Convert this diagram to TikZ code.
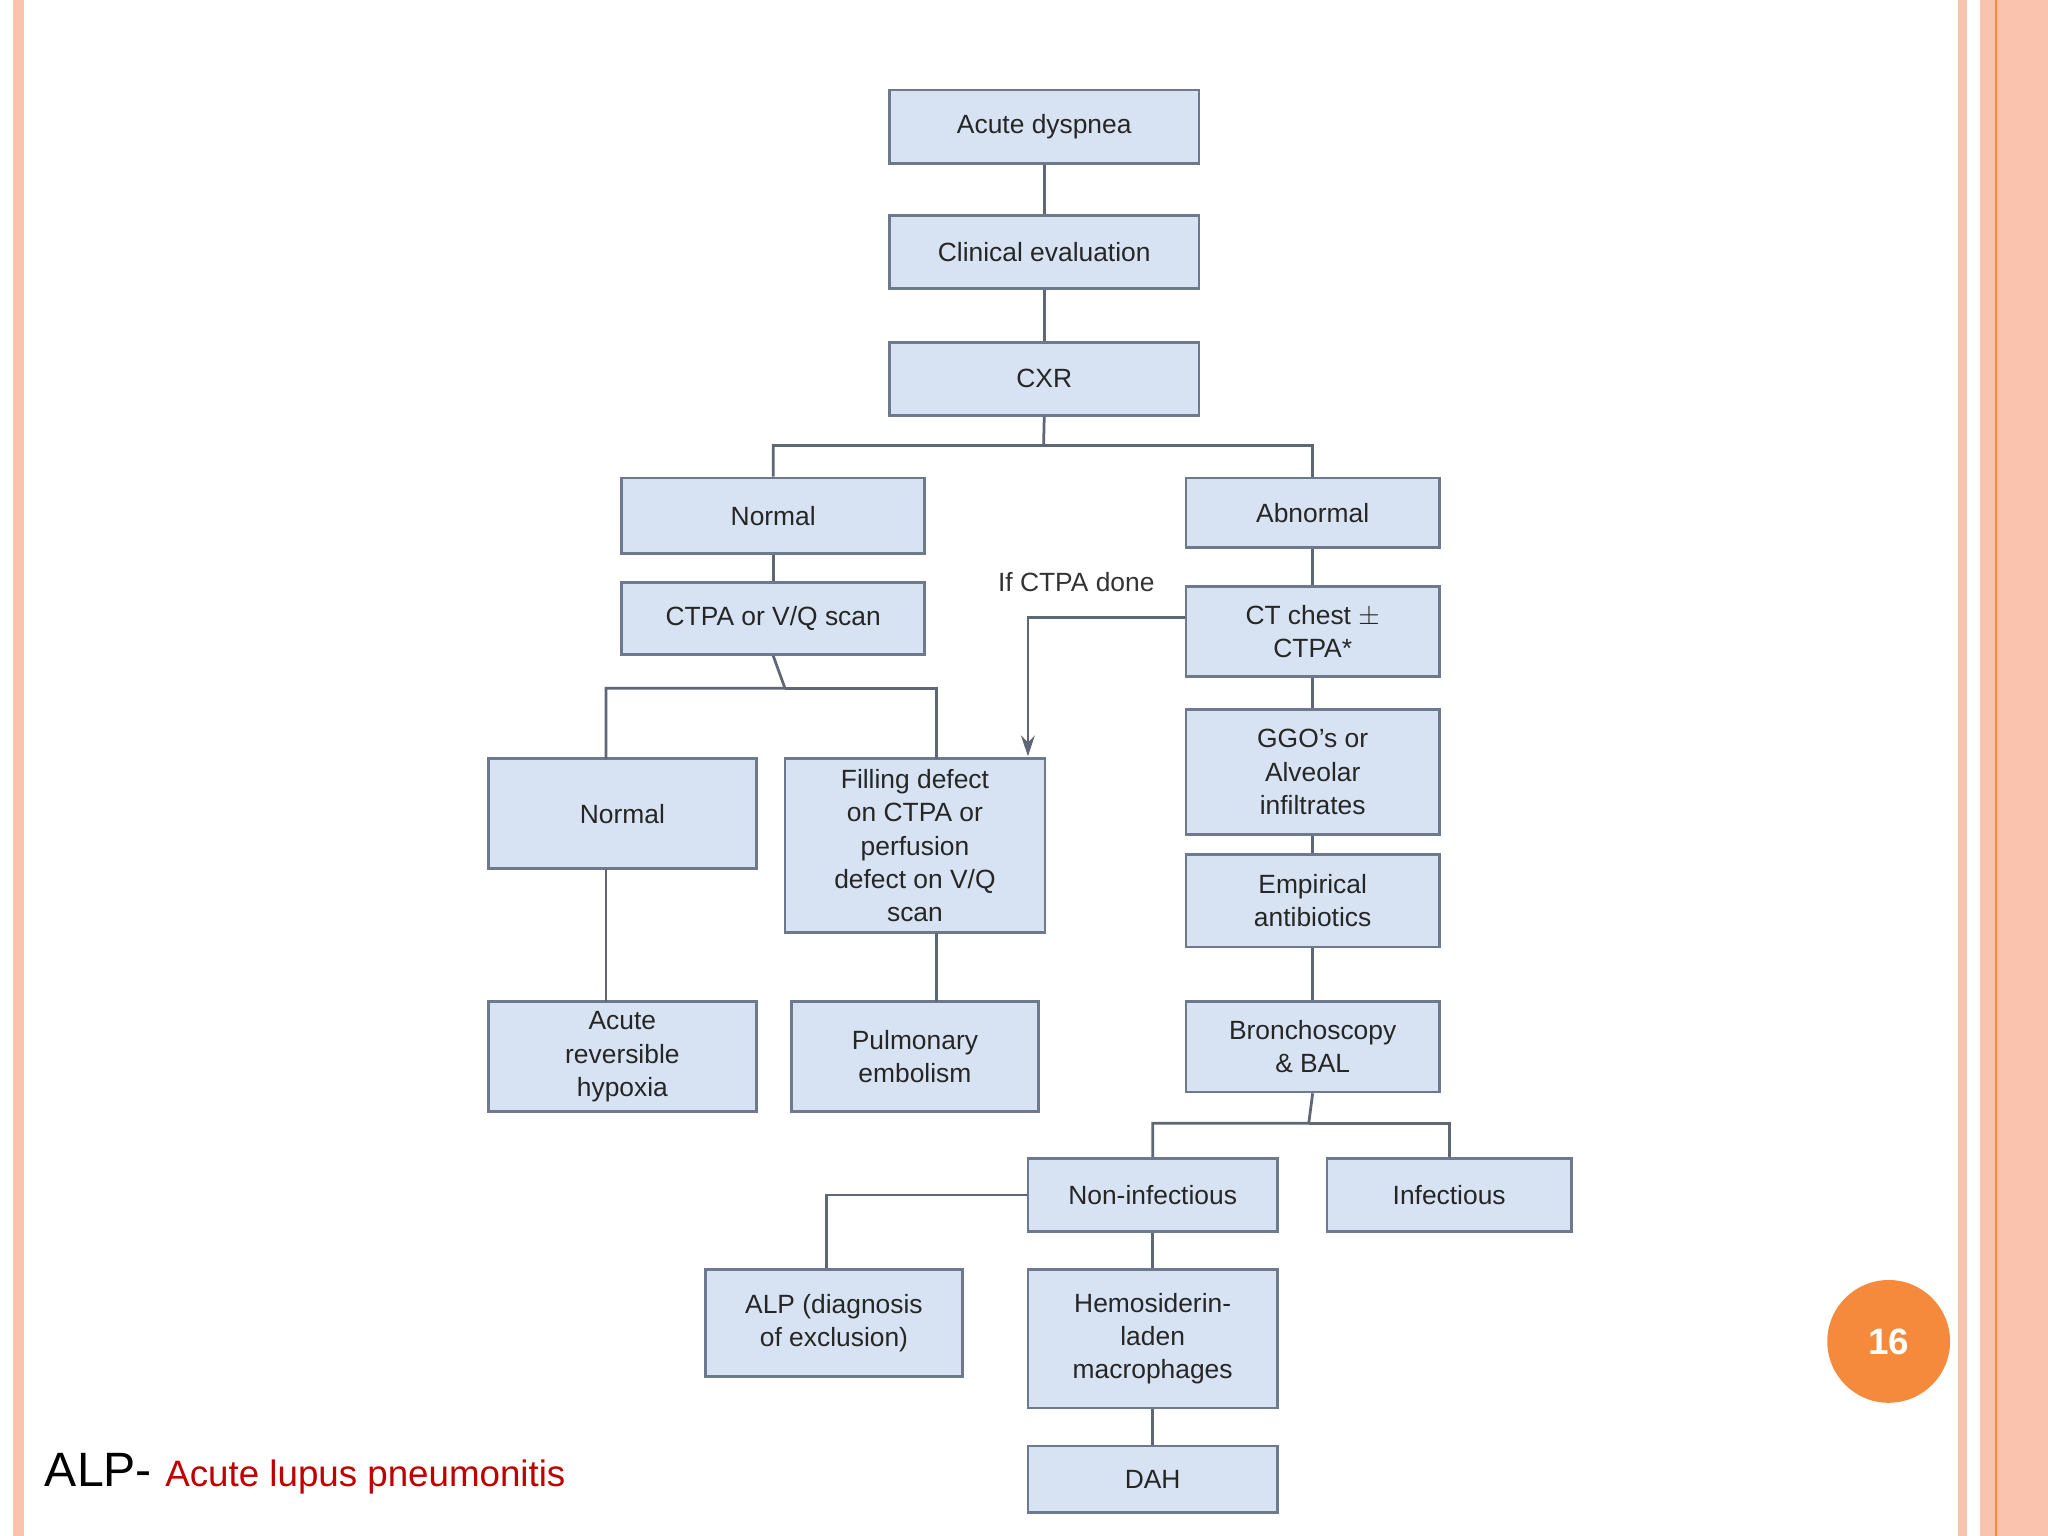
\documentclass[tikz,border=0pt]{standalone}
\usepackage{fontspec}
\setmainfont{Liberation Sans}
\usetikzlibrary{arrows.meta}
\definecolor{bfill}{HTML}{D7E3F3}
\definecolor{bline}{HTML}{6D7A8E}
\definecolor{lnk}{HTML}{5F6775}
\definecolor{stripe}{HTML}{F9C3AE}
\definecolor{orng}{HTML}{F58A3C}
\definecolor{dred}{HTML}{C00000}
\tikzset{box/.style={draw=bline,line width=1.2pt,fill=bfill,align=center,inner sep=0pt,font=\fontsize{11.5}{14.5}\selectfont,text=black!85},
 lk/.style={draw=lnk,line width=1.2pt}}
\newcommand\bx[6]{\node[box,minimum width={(#4-#2)*0.02cm},minimum height={(#5-#3)*0.02cm}] (#1) at ({(#2+#4)/2},{(#3+#5)/2}) {#6};}
\begin{document}
\begin{tikzpicture}[x=0.02cm,y=-0.02cm]
\useasboundingbox (0,0) rectangle (1568,1176);
\fill[white] (0,0) rectangle (1568,1176);
\fill[stripe] (10,0) rectangle (18,1176);
\fill[stripe] (1499,0) rectangle (1506,1176);
\fill[stripe] (1516,0) rectangle (1568,1176);
\draw[orng,line width=0.8pt] (1528,0) -- (1528,1176);
\bx{ad}{681}{69}{918}{125}{Acute dyspnea}
\bx{ce}{681}{165}{918}{221}{Clinical evaluation}
\bx{cxr}{681}{262}{918}{318}{CXR}
\bx{nor}{476}{366}{708}{424}{Normal}
\bx{abn}{908}{366}{1102}{419}{Abnormal}
\bx{ctpa}{476}{446}{708}{501}{CTPA or V/Q scan}
\bx{ct}{908}{449}{1102}{518}{CT chest $\pm$\\CTPA*}
\bx{ggo}{908}{543}{1102}{639}{GGO's or\\Alveolar\\infiltrates}
\bx{emp}{908}{654}{1102}{725}{Empirical\\antibiotics}
\bx{bro}{908}{767}{1102}{836}{Bronchoscopy\\\& BAL}
\bx{nor2}{374}{581}{579}{665}{Normal}
\bx{fil}{601}{581}{800}{714}{Filling defect\\on CTPA or\\perfusion\\defect on V/Q\\scan}
\bx{arh}{374}{767}{579}{851}{Acute\\reversible\\hypoxia}
\bx{pe}{606}{767}{795}{851}{Pulmonary\\embolism}
\bx{ni}{787}{887}{978}{943}{Non-infectious}
\bx{inf}{1016}{887}{1203}{943}{Infectious}
\bx{alp}{540}{972}{737}{1054}{ALP (diagnosis\\of exclusion)}
\bx{hem}{787}{972}{978}{1078}{Hemosiderin-\\laden\\macrophages}
\bx{dah}{787}{1107}{978}{1158}{DAH}
\draw[lk] (ad) -- (ce);
\draw[lk] (ce) -- (cxr);
\draw[lk] (cxr.south) -- (799,341) -| (nor.north);
\draw[lk] (799,341) -| (abn.north);
\draw[lk] (nor) -- (ctpa);
\draw[lk] (ctpa.south) -- (601,527) -| (464,581);
\draw[lk] (601,527) -| (717,581);
\draw[lk] (464,665) -- (464,767);
\draw[lk] (717,714) -- (717,767);
\draw[lk] (abn) -- (ct);
\draw[lk,-{Stealth[length=9pt,width=6pt]}] (ct.west |- 0,473) -| (787,579);
\node[font=\fontsize{11.5}{14}\selectfont,text=black!80] (lbl) at (824,446) {If CTPA done};
\draw[lk] (ct) -- (ggo);
\draw[lk] (ggo) -- (emp);
\draw[lk] (emp) -- (bro);
\draw[lk] (bro.south) -- (1002,860) -| (ni.north);
\draw[lk] (1002,860) -| (inf.north);
\draw[lk] (ni.west) -| (alp.north -| 633,0);
\draw[lk] (ni) -- (hem);
\draw[lk] (hem) -- (dah);
\node[circle,fill=orng,minimum size={94*0.02cm},inner sep=0pt,text=white,font=\fontsize{16}{18}\selectfont\bfseries] (pg) at (1446,1027) {16};
\node[anchor=base west,inner sep=0pt] (ft) at (34,1138) {\fontsize{21}{24}\selectfont ALP- \fontsize{16}{18}\selectfont\color{dred}Acute lupus pneumonitis};
\end{tikzpicture}
\end{document}
